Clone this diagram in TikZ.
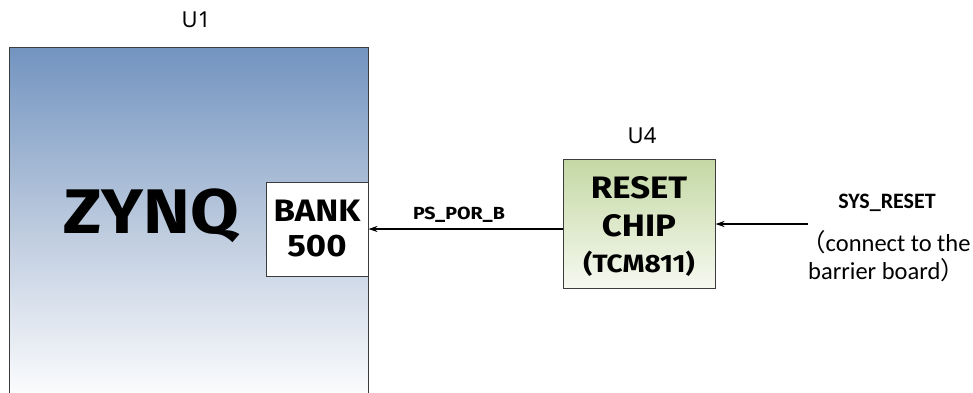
\documentclass[tikz,border=0pt]{standalone}
\usepackage{fontspec}
\setmainfont{Noto Sans}
\newfontfamily\bfont{Fira Sans Bold}[FakeStretch=1.12]
\newfontfamily\calib{Carlito}
\newfontfamily\cjk{Noto Sans CJK SC}
\usetikzlibrary{arrows.meta}
\definecolor{zblue}{RGB}{114,148,192}
\definecolor{rgreen}{RGB}{196,216,164}
\definecolor{rgreenl}{RGB}{246,249,240}
\definecolor{bord}{RGB}{60,60,60}
\tikzset{
  chipbox/.style={draw=bord, line width=1pt},
  sig/.style={line width=1.4pt, -{Stealth[length=9pt,width=6pt]}},
  lbl/.style={inner sep=0pt, font=\fontsize{22}{24}\selectfont},
}
\begin{document}
\begin{tikzpicture}[x=1pt,y=-1pt]
\useasboundingbox (0,0) rectangle (973,392);
\clip (0,0) rectangle (973,392);
\fill[white] (0,0) rectangle (973,392);
% ZYNQ block
\shade[top color=zblue, bottom color=white, middle color={rgb,255:red,188;green,202;blue,222}] (9,47) rectangle (368,405);
\draw[chipbox] (9,405) -- (9,47) -- (368,47) -- (368,405);
\node[inner sep=0pt, font=\fontsize{63}{66}\bfont] (zynq) at (151,216) {ZYNQ};
\node[lbl] (u1) at (196,20) {U1};
% BANK 500
\node[chipbox, fill=white, minimum width=102pt, minimum height=94pt, inner sep=0pt, align=center,
  font=\fontsize{31}{35}\bfont] (bank) at (317,229) {BANK\\500};
% RESET CHIP
\node[chipbox, top color=rgreen, bottom color=rgreenl, minimum width=152pt, minimum height=129pt, inner sep=0pt] (reset) at (639,223.5) {};
\node[align=center, inner sep=0pt, font=\fontsize{31}{38}\bfont] (rtxt) at (639,207) {RESET\\CHIP};
\node[inner sep=0pt, font=\fontsize{25}{26}\bfont] (tcm) at (639,264) {(TCM811)};
\node[lbl] (u4) at (642,136) {U4};
% signals
\coordinate (resetW) at (reset.west |- 0,229);
\coordinate (bankE) at (bank.east |- 0,229);
\draw[sig] (resetW) -- (bankE);
\node[inner sep=0pt, font=\fontsize{17.5}{18}\bfont] (por) at (459,215) {PS\_POR\_B};
\coordinate (sysin) at (808,224);
\coordinate (resetE) at (reset.east |- 0,224);
\draw[sig] (sysin) -- (resetE);
\node[inner sep=0pt, font=\fontsize{22}{24}\calib\bfseries] (sys) at (887,203) {SYS\_RESET};
\node[inner sep=0pt, anchor=west, font=\fontsize{24.5}{26}\calib] (c1) at (801,242) {{\cjk （}connect to the};
\node[inner sep=0pt, anchor=west, font=\fontsize{24.5}{26}\calib] (c2) at (808,270) {barrier board{\cjk ）}};
\end{tikzpicture}
\end{document}
